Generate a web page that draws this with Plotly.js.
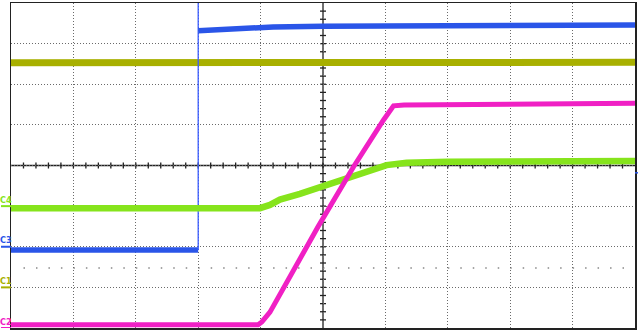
<!DOCTYPE html>
<html>
<head>
<meta charset="utf-8">
<script src="https://cdn.plot.ly/plotly-3.0.1.min.js"></script>
<style>html,body{margin:0;padding:0;background:#fff;}#chart{width:639px;height:331px;}</style>
</head>
<body>
<div id="chart"></div>
<script>
// Values in oscilloscope divisions (x: 0..10 div, y: -4..4 div)
const c3LowX = [0, 3.0];
const c3LowY = [-2.08, -2.08];
const c3EdgeX = [3.0, 3.0];
const c3EdgeY = [-2.08, 4.0];
const c3HighX = [3.0, 3.6, 4.2, 5.0, 7.0, 10.0];
const c3HighY = [3.32, 3.37, 3.41, 3.43, 3.45, 3.46];

const c1X = [0, 5, 10];
const c1Y = [2.53, 2.53, 2.54];

const c4X = [0, 3.99, 4.15, 4.31, 4.63, 5.06, 5.38, 5.70, 6.02, 6.34, 7.0, 10.0];
const c4Y = [-1.05, -1.05, -0.97, -0.84, -0.70, -0.48, -0.29, -0.15, 0.01, 0.07, 0.09, 0.11];

const c2X = [0, 3.96, 4.02, 4.15, 4.92, 5.49, 5.97, 6.13, 6.30, 10.0];
const c2Y = [-3.92, -3.92, -3.85, -3.61, -1.51, -0.03, 1.12, 1.47, 1.49, 1.53];

const channelNames = ['C4', 'C3', 'C1', 'C2'];
const channelOffsets = [-1, -2, -3, -4];
const channelColors = ['#86e41c', '#2a55e8', '#a8b000', '#f020c4'];
const triggerLevelY = -2.52;

const BLUE = '#2a55e8', OLIVE = '#a8b000', GREEN = '#86e41c', PINK = '#f020c4';

const traces = [
  {x: c1X, y: c1Y, mode: 'lines', line: {color: OLIVE, width: 7}},
  {x: c3LowX, y: c3LowY, mode: 'lines', line: {color: BLUE, width: 5.5}},
  {x: c3EdgeX, y: c3EdgeY, mode: 'lines', line: {color: '#3a5cff', width: 1.3}},
  {x: c3HighX, y: c3HighY, mode: 'lines', line: {color: BLUE, width: 5.5}},
  {x: c4X, y: c4Y, mode: 'lines', line: {color: GREEN, width: 6.5}},
  {x: c2X, y: c2Y, mode: 'lines', line: {color: PINK, width: 5}}
];

const shapes = [];
shapes.push({type: 'line', xref: 'x', yref: 'y', x0: 0, x1: 10, y0: 0, y1: 0, line: {color: '#222', width: 1.3}, layer: 'below'});
shapes.push({type: 'line', xref: 'x', yref: 'y', x0: 5, x1: 5, y0: -4, y1: 4, line: {color: '#222', width: 1.3}, layer: 'below'});
for (let i = 1; i < 50; i++) {
  const xv = i * 0.2;
  shapes.push({type: 'line', xref: 'x', yref: 'y', ysizemode: 'pixel', yanchor: 0, x0: xv, x1: xv, y0: -3, y1: 3, line: {color: '#222', width: 1.3}, layer: 'below'});
}
for (let i = 1; i < 40; i++) {
  const yv = -4 + i * 0.2;
  shapes.push({type: 'line', yref: 'y', xref: 'x', xsizemode: 'pixel', xanchor: 5, y0: yv, y1: yv, x0: -3, x1: 3, line: {color: '#222', width: 1.3}, layer: 'below'});
}
shapes.push({type: 'line', xref: 'x', yref: 'y', x0: 0.2, x1: 10, y0: triggerLevelY, y1: triggerLevelY, line: {color: '#888', width: 1.5, dash: '1.5px,10.98px'}, layer: 'below'});
channelOffsets.forEach((off, i) => {
  shapes.push({type: 'line', xref: 'paper', yref: 'y', x0: -10/624, x1: 0, y0: off, y1: off, line: {color: channelColors[i], width: 2}});
});
shapes.push({type: 'line', xref: 'paper', yref: 'y', x0: 1, x1: 1 + 3/624, y0: -0.18, y1: -0.18, line: {color: BLUE, width: 1.5}});

const annotations = channelNames.map((name, i) => ({
  text: '<b>' + name + '</b>', xref: 'paper', yref: 'y', x: -11/624, y: channelOffsets[i] + 0.16,
  xanchor: 'left', yanchor: 'middle', xshift: 0, showarrow: false, borderpad: 0, borderwidth: 0,
  font: {family: '"Liberation Sans Narrow", "DejaVu Sans Condensed", sans-serif', size: 9, color: channelColors[i]}
}));

const layout = {
  width: 639, height: 331,
  margin: {l: 11, r: 4, t: 3, b: 3, pad: 0},
  paper_bgcolor: '#ffffff', plot_bgcolor: '#ffffff',
  showlegend: false,
  xaxis: {range: [0, 10], dtick: 1, tick0: 0, showticklabels: false, ticks: '', showgrid: true,
          gridcolor: '#6a6a6a', gridwidth: 1, griddash: '1px,2px', zeroline: false,
          showline: true, mirror: true, linecolor: '#222', linewidth: 1.5, fixedrange: true},
  yaxis: {range: [-4, 4], dtick: 1, tick0: 0, showticklabels: false, ticks: '', showgrid: true,
          gridcolor: '#6a6a6a', gridwidth: 1, griddash: '1px,2px', zeroline: false,
          showline: true, mirror: true, linecolor: '#222', linewidth: 1.5, fixedrange: true},
  shapes: shapes,
  annotations: annotations
};

Plotly.newPlot('chart', traces, layout, {displayModeBar: false, staticPlot: true});
</script>
</body>
</html>
